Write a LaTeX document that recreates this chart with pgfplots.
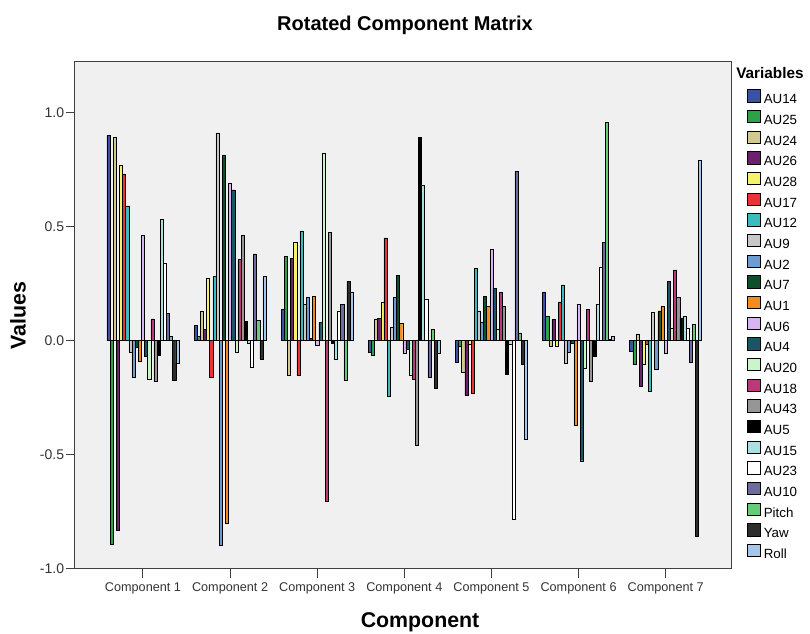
\documentclass[border=0pt]{standalone}
\usepackage{fontspec}
\setmainfont{Liberation Sans}
\usepackage{pgfplots}
\usepackage{pgfplotstable}
\pgfplotsset{compat=1.18}

% loadings, one row per component
\pgfplotstableread{
c  AU14   AU25   AU24   AU26   AU28   AU17   AU12   AU9    AU2    AU7    AU1    AU6    AU4    AU20   AU18   AU43   AU5    AU15   AU23   AU10   Pitch  Yaw    Roll
1  0.90  -0.89   0.89  -0.83   0.77   0.73   0.59  -0.05  -0.16  -0.03  -0.09   0.46  -0.07  -0.17   0.095 -0.18  -0.065  0.53   0.34   0.12   0.02  -0.175 -0.10
2  0.066  0.02   0.13   0.05   0.275 -0.16   0.28   0.91  -0.895  0.81  -0.80   0.69   0.66  -0.05   0.355  0.46   0.085 -0.01  -0.117  0.38   0.09  -0.08   0.28
3  0.136  0.37  -0.15   0.36   0.43  -0.15   0.48   0.16   0.19   0.01   0.195 -0.02   0.08   0.82  -0.705  0.475 -0.01  -0.08   0.13   0.16  -0.175  0.26   0.21
4 -0.05  -0.064  0.095  0.096  0.17   0.45  -0.245  0.06   0.19   0.285  0.077 -0.054 -0.037 -0.15  -0.17  -0.46   0.89   0.68   0.18  -0.16   0.05  -0.21  -0.054
5 -0.094 -0.025 -0.14  -0.24  -0.015 -0.23   0.315  0.13   0.08   0.195  0.15   0.40   0.23   0.05   0.21   0.15  -0.146 -0.015 -0.78   0.74   0.034 -0.105 -0.43
6  0.21   0.107 -0.025  0.092 -0.025  0.17   0.244 -0.098 -0.05  -0.01  -0.37   0.16  -0.526 -0.12   0.136 -0.178 -0.07   0.16   0.32   0.43   0.955  0.005  0.02
7 -0.047 -0.105  0.03  -0.20  -0.105 -0.015 -0.22   0.124 -0.127  0.13   0.15  -0.054  0.26   0.056  0.31   0.19   0.10   0.107  0.053 -0.095  0.07  -0.855  0.79
}\loadings

\definecolor{bgcol}{RGB}{240,240,240}
\definecolor{cAU14}{RGB}{57,82,164}
\definecolor{cAU25}{RGB}{44,162,72}
\definecolor{cAU24}{RGB}{210,201,142}
\definecolor{cAU26}{RGB}{108,32,110}
\definecolor{cAU28}{RGB}{246,242,106}
\definecolor{cAU17}{RGB}{232,52,56}
\definecolor{cAU12}{RGB}{58,188,188}
\definecolor{cAU9}{RGB}{200,200,200}
\definecolor{cAU2}{RGB}{108,156,210}
\definecolor{cAU7}{RGB}{14,80,44}
\definecolor{cAU1}{RGB}{242,140,28}
\definecolor{cAU6}{RGB}{218,180,240}
\definecolor{cAU4}{RGB}{28,84,104}
\definecolor{cAU20}{RGB}{200,246,200}
\definecolor{cAU18}{RGB}{184,58,122}
\definecolor{cAU43}{RGB}{150,150,150}
\definecolor{cAU5}{RGB}{0,0,0}
\definecolor{cAU15}{RGB}{170,224,224}
\definecolor{cAU23}{RGB}{255,255,255}
\definecolor{cAU10}{RGB}{108,108,160}
\definecolor{cPitch}{RGB}{102,204,120}
\definecolor{cYaw}{RGB}{46,46,46}
\definecolor{cRoll}{RGB}{164,200,236}

\pgfplotsset{
  v/.style={fill=#1, draw=black, line width=0.35pt,
    legend image code/.code={\draw[fill=#1,draw=black,line width=0.4pt] (0pt,-1.2pt) rectangle (9.4pt,8.2pt);}},
}

\begin{document}
\begin{tikzpicture}
\path[use as bounding box] (-56.25pt,-48.75pt) rectangle (551.25pt,426.75pt);
\begin{axis}[
    at={(0,0)}, anchor=south west,
    scale only axis,
    width=492pt, height=380.25pt,
    ybar=0pt, bar width=2.35pt,
    xmin=0.22, xmax=7.75,
    ymin=-1, ymax=1.22,
    xtick={1,2,3,4,5,6,7},
    xticklabels={Component 1,Component 2,Component 3,Component 4,Component 5,Component 6,Component 7},
    ytick={-1,-0.5,0,0.5,1},
    /pgf/number format/fixed,
    /pgf/number format/fixed zerofill,
    /pgf/number format/precision=1,
    /pgf/number format/assume math mode=true,
    tick pos=left, tick align=outside,
    major tick length=7pt,
    tick style={line width=0.75pt, color=black!75},
    axis line style={line width=0.75pt, color=black!75},
    axis background/.style={fill=bgcol},
    yticklabel style={font=\fontsize{10.5}{12}\selectfont, text=black!80, inner sep=1pt},
    xticklabel style={font=\fontsize{9.5}{11}\selectfont, text=black!80},
    legend style={draw=none, fill=none, inner sep=0pt,
      row sep=2.1pt, column sep=2.8pt,
      font=\fontsize{10}{12}\selectfont,
      nodes={inner sep=0pt, text height=7.5pt, text depth=2.5pt},
      at={(1,1)}, anchor=north west, xshift=11.8pt, yshift=-20.25pt},
    legend cell align=left,
    clip=false,
]
\addplot[v=cAU14] table[x=c,y=AU14] {\loadings}; \addlegendentry{AU14}
\addplot[v=cAU25] table[x=c,y=AU25] {\loadings}; \addlegendentry{AU25}
\addplot[v=cAU24] table[x=c,y=AU24] {\loadings}; \addlegendentry{AU24}
\addplot[v=cAU26] table[x=c,y=AU26] {\loadings}; \addlegendentry{AU26}
\addplot[v=cAU28] table[x=c,y=AU28] {\loadings}; \addlegendentry{AU28}
\addplot[v=cAU17] table[x=c,y=AU17] {\loadings}; \addlegendentry{AU17}
\addplot[v=cAU12] table[x=c,y=AU12] {\loadings}; \addlegendentry{AU12}
\addplot[v=cAU9]  table[x=c,y=AU9]  {\loadings}; \addlegendentry{AU9}
\addplot[v=cAU2]  table[x=c,y=AU2]  {\loadings}; \addlegendentry{AU2}
\addplot[v=cAU7]  table[x=c,y=AU7]  {\loadings}; \addlegendentry{AU7}
\addplot[v=cAU1]  table[x=c,y=AU1]  {\loadings}; \addlegendentry{AU1}
\addplot[v=cAU6]  table[x=c,y=AU6]  {\loadings}; \addlegendentry{AU6}
\addplot[v=cAU4]  table[x=c,y=AU4]  {\loadings}; \addlegendentry{AU4}
\addplot[v=cAU20] table[x=c,y=AU20] {\loadings}; \addlegendentry{AU20}
\addplot[v=cAU18] table[x=c,y=AU18] {\loadings}; \addlegendentry{AU18}
\addplot[v=cAU43] table[x=c,y=AU43] {\loadings}; \addlegendentry{AU43}
\addplot[v=cAU5]  table[x=c,y=AU5]  {\loadings}; \addlegendentry{AU5}
\addplot[v=cAU15] table[x=c,y=AU15] {\loadings}; \addlegendentry{AU15}
\addplot[v=cAU23] table[x=c,y=AU23] {\loadings}; \addlegendentry{AU23}
\addplot[v=cAU10] table[x=c,y=AU10] {\loadings}; \addlegendentry{AU10}
\addplot[v=cPitch] table[x=c,y=Pitch] {\loadings}; \addlegendentry{Pitch}
\addplot[v=cYaw]  table[x=c,y=Yaw]  {\loadings}; \addlegendentry{Yaw}
\addplot[v=cRoll] table[x=c,y=Roll] {\loadings}; \addlegendentry{Roll}

\node[font=\fontsize{15}{18}\selectfont\bfseries] at ([yshift=27.75pt]rel axis cs:0.503,1) {Rotated Component Matrix};
\node[font=\fontsize{16}{19}\selectfont\bfseries, rotate=90] at ([xshift=-42.75pt]rel axis cs:0,0.5) {Values};
\node[font=\fontsize{16}{19}\selectfont\bfseries] at ([yshift=-39.75pt]rel axis cs:0.526,0) {Component};
\node[font=\fontsize{11.5}{14}\selectfont\bfseries, anchor=west, inner sep=0pt] at ([xshift=3.75pt,yshift=-8.6pt]rel axis cs:1,1) {Variables};
\end{axis}
\end{tikzpicture}
\end{document}
